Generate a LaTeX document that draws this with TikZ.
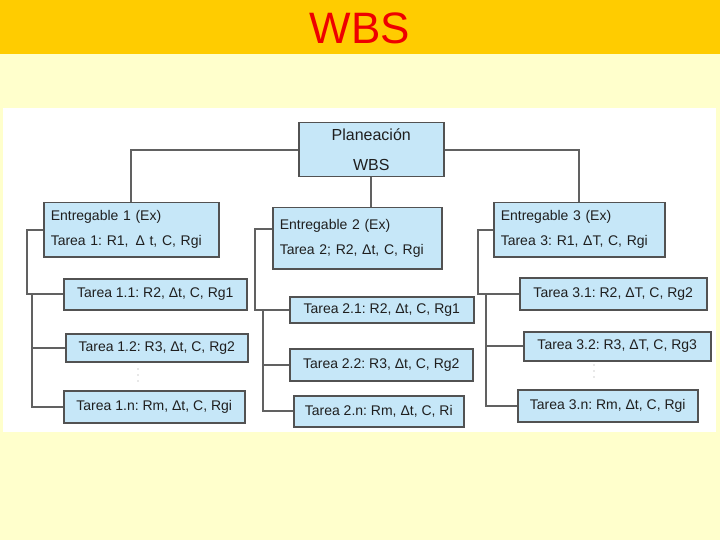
\documentclass[tikz,border=0pt]{standalone}
\usepackage{fontspec}
\setmainfont{Liberation Sans}
\frenchspacing
\definecolor{hdr}{HTML}{FFCC00}
\definecolor{bg}{HTML}{FFFFCC}
\definecolor{boxblue}{HTML}{C6E7F8}
\definecolor{titlered}{HTML}{EE0000}
\begin{document}
\begin{tikzpicture}[x=1pt,y=-1pt,
  base/.style={draw=black!68, line width=1.5pt, fill=boxblue, anchor=north west, text=black!88, inner ysep=0pt},
  task/.style={base, inner xsep=0pt, font=\fontsize{14}{17}\selectfont},
  ent/.style={base, inner xsep=7pt, align=left, font=\fontsize{14}{25}\selectfont},
  top/.style={base, inner xsep=0pt, align=center, font=\fontsize{16}{30}\selectfont},
  conn/.style={draw=black!62, line width=1.6pt},
  dots/.style={fill=black!18},
]
\useasboundingbox (0,0) rectangle (720,540);
\fill[bg] (0,0) rectangle (720,540);
\fill[hdr] (0,0) rectangle (720,54);
\fill[white] (3,108) rectangle (716,432);
\node[text=titlered, font=\fontsize{44}{44}\selectfont] (title) at (360,28) {WBS};

% top level
\node[top, minimum width=145, minimum height=54] (P) at (298,122) {Planeación\\WBS};

% deliverables
\node[ent, text width=161, minimum height=54] (E1) at (43,202) {Entregable 1 (Ex)\\Tarea 1: R1, \,Δ t, C, Rgi};
\node[ent, text width=155, minimum height=61] (E2) at (272,207) {Entregable 2 (Ex)\\Tarea 2; R2, Δt, C, Rgi};
\node[ent, text width=157, minimum height=54] (E3) at (493,202) {Entregable 3 (Ex)\\Tarea 3: R1, ΔT, C, Rgi};

% tasks 1
\node[task, minimum width=183, minimum height=31] (T11) at (63,278) {Tarea 1.1: R2, Δt, C, Rg1};
\node[task, minimum width=182, minimum height=28] (T12) at (65,333) {Tarea 1.2: R3, Δt, C, Rg2};
\node[task, minimum width=181, minimum height=32] (T1n) at (63,390) {Tarea 1.n: Rm, Δt, C, Rgi};
% tasks 2
\node[task, minimum width=184, minimum height=26] (T21) at (289,296) {Tarea 2.1: R2, Δt, C, Rg1};
\node[task, minimum width=183, minimum height=32] (T22) at (289,348) {Tarea 2.2: R3, Δt, C, Rg2};
\node[task, minimum width=170, minimum height=31] (T2n) at (293,395) {Tarea 2.n: Rm, Δt, C, Ri};
% tasks 3
\node[task, minimum width=187, minimum height=32] (T31) at (519,277) {Tarea 3.1: R2, ΔT, C, Rg2};
\node[task, minimum width=187, minimum height=29] (T32) at (523,331) {Tarea 3.2: R3, ΔT, C, Rg3};
\node[task, minimum width=180, minimum height=32] (T3n) at (517,389) {Tarea 3.n: Rm, Δt, C, Rgi};

% connectors top
\draw[conn] (P.west) -| (E1.north);
\draw[conn] (P.east) -| (E3.north);
\draw[conn] (P.south) -- (P.south |- E2.north);

% branch 1
\draw[conn] (E1.west) -- ++(-16,0) |- (T11.west);
\coordinate (b1) at (32,294);
\draw[conn] (b1) |- (T1n.west);
\draw[conn] (b1 |- T12.west) -- (T12.west);

% branch 2
\draw[conn] ([yshift=9.5pt]E2.west) -- ++(-17,0) |- (T21.west);
\coordinate (b2) at (263,309);
\draw[conn] (b2) |- (T2n.west);
\draw[conn] (b2 |- T22.west) -- (T22.west);

% branch 3
\draw[conn] (E3.west) -- ++(-15,0) |- (T31.west);
\coordinate (b3) at (486,293);
\draw[conn] (b3) |- (T3n.west);
\draw[conn] (b3 |- T32.west) -- (T32.west);

% faint ellipsis dots
\foreach \y in {369,375,381} {
  \fill[dots] (138,\y) circle (0.9);
  \fill[dots] (594,\y-4) circle (0.9);
}
\end{tikzpicture}
\end{document}
